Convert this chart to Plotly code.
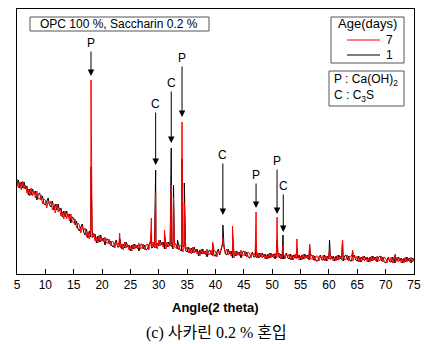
import numpy as np
import plotly.graph_objects as go

# ---------------- data ----------------
# background grid: 5..75 deg, step 0.25 (4 values per degree)
angle_grid = np.arange(5, 75.001, 0.25)

bg_7d = [
    95, 86, 92, 84,  93, 85, 89, 81,  85, 78, 86, 78,  83, 76, 83, 75,  75, 79, 70, 75,   # 5-9
    74, 66, 73, 69,  73, 64, 69, 61,  70, 62, 66, 58,  62, 55, 63, 55,  60, 53, 60, 52,   # 10-14
    51, 55, 46, 51,  49, 41, 48, 43,  46, 37, 42, 35,  44, 36, 41, 33,  37, 31, 39, 32,   # 15-19
    36, 32, 37, 31,  31, 35, 28, 33,  32, 26, 32, 28,  32, 26, 30, 24,  32, 26, 30, 24,   # 20-24
    28, 23, 30, 25,  29, 25, 31, 25,  26, 30, 24, 29,  30, 24, 30, 27,  32, 26, 31, 25,   # 25-29
    34, 28, 32, 27,  30, 25, 32, 27,  31, 27, 33, 27,  26, 30, 24, 29,  28, 22, 27, 24,   # 30-34
    27, 21, 26, 20,  27, 21, 25, 20,  23, 18, 25, 20,  23, 19, 25, 19,  20, 24, 18, 23,   # 35-39
    23, 17, 23, 20,  27, 31, 26, 21,  25, 19, 23, 18,  21, 16, 23, 18,  22, 18, 24, 18,   # 40-44
    19, 23, 17, 22,  21, 16, 21, 18,  22, 16, 21, 16,  21, 16, 20, 15,  19, 15, 21, 16,   # 45-49
    20, 16, 21, 16,  17, 21, 15, 20,  20, 15, 20, 17,  20, 14, 19, 14,  20, 15, 19, 14,   # 50-54
    18, 14, 20, 15,  19, 15, 20, 15,  15, 19, 13, 18,  18, 13, 18, 15,  19, 13, 18, 13,   # 55-59
    19, 14, 18, 13,  17, 13, 19, 14,  18, 14, 19, 14,  15, 19, 13, 18,  18, 13, 18, 15,   # 60-64
    18, 12, 17, 12,  18, 13, 17, 12,  16, 12, 18, 13,  17, 13, 18, 13,  14, 18, 12, 17,   # 65-69
    16, 11, 16, 13,  17, 11, 16, 11,  17, 12, 16, 11,  15, 11, 17, 12,  16, 12, 17, 12,   # 70-74
    14,                                                                                   # 75
]

bg_1d = [
    88, 94, 86, 92,  86, 92, 85, 88,  79, 85, 79, 85,  80, 83, 74, 80,  81, 74, 78, 70,   # 5-9
    69, 73, 76, 69,  67, 73, 64, 70,  64, 70, 63, 66,  57, 63, 57, 63,  57, 60, 51, 57,   # 10-14
    56, 49, 53, 45,  43, 47, 50, 42,  39, 45, 36, 43,  37, 43, 37, 40,  31, 38, 32, 39,   # 15-19
    33, 36, 29, 35,  35, 30, 33, 28,  27, 31, 34, 27,  27, 32, 25, 30,  26, 32, 27, 29,   # 20-24
    23, 29, 25, 30,  26, 29, 23, 29,  30, 25, 29, 24,  25, 29, 32, 26,  27, 32, 26, 31,   # 25-29
    28, 34, 29, 32,  25, 31, 27, 32,  28, 31, 25, 31,  30, 25, 29, 24,  23, 27, 29, 23,   # 30-34
    22, 27, 21, 26,  21, 27, 22, 25,  18, 24, 20, 25,  20, 23, 17, 23,  24, 19, 23, 18,   # 35-39
    18, 22, 25, 19,  25, 30, 28, 20,  19, 25, 20, 23,  16, 22, 18, 23,  19, 22, 16, 22,   # 40-44
    23, 18, 22, 17,  16, 20, 22, 17,  17, 22, 16, 21,  17, 21, 17, 20,  15, 20, 16, 21,   # 45-49
    17, 20, 15, 20,  21, 16, 20, 15,  15, 19, 21, 16,  15, 20, 14, 19,  16, 20, 16, 19,   # 50-54
    14, 19, 15, 20,  16, 19, 14, 19,  19, 14, 18, 13,  13, 17, 19, 14,  14, 19, 13, 18,   # 55-59
    15, 19, 15, 18,  13, 18, 14, 19,  15, 18, 13, 18,  19, 14, 18, 13,  13, 17, 19, 14,   # 60-64
    13, 18, 12, 17,  14, 18, 14, 17,  12, 17, 13, 18,  14, 17, 12, 17,  18, 13, 17, 12,   # 65-69
    11, 15, 17, 12,  12, 17, 11, 16,  13, 17, 13, 16,  11, 16, 12, 17,  13, 16, 11, 16,   # 70-74
    14,                                                                                   # 75
]

# sharp diffraction peaks
peak_angles = [18.05, 23.1, 28.7, 29.45, 31.0, 32.2, 32.6, 33.3, 34.1, 34.5,
               39.5, 41.3, 43.0, 47.15, 50.85, 51.9, 54.35, 56.6, 60.1, 62.4, 64.2, 71.7]
peak_7d = [194, 41, 56, 81, 44, 89, 77, 30, 152, 71,
           32, 37, 48, 62, 57, 29, 35, 30, 24, 34, 24, 20]
peak_1d = [107, 36, 40, 104, 40, 126, 89, 34, 115, 91,
           30, 49, 40, 32, 34, 39, 25, 28, 34, 34, 22, 19]

# phase labels
label_text = ["P", "C", "C", "P", "C", "P", "P", "C"]
label_angle = [18.05, 29.45, 32.2, 34.1, 41.3, 47.15, 50.85, 51.95]
label_tip = [198, 109, 131, 157, 59, 66, 60, 42]
label_offset = [-33, -61, -60, -59, -60, -33, -53, -46]

x_ticks = list(range(5, 80, 5))


def merge(grid, bg, px, ph):
    xs = list(grid) + list(px)
    ys = list(bg) + list(ph)
    order = np.argsort(xs, kind="stable")
    return [xs[i] for i in order], [ys[i] for i in order]


x7, y7 = merge(angle_grid, bg_7d, peak_angles, peak_7d)
x1, y1 = merge(angle_grid, bg_1d, peak_angles, peak_1d)

# ---------------- figure ----------------
W, H = 435, 344
L, R, T, B = 17, 414, 9, 274
FONT = "Liberation Sans, Arial, sans-serif"


def px(xp):
    return (xp - L) / (R - L)


def py(yp):
    return (B - yp) / (B - T)


fig = go.Figure()
fig.add_trace(go.Scatter(x=x1, y=y1, mode="lines", name="1",
                         line=dict(color="#000000", width=1), showlegend=False))
fig.add_trace(go.Scatter(x=x7, y=y7, mode="lines", name="7",
                         line=dict(color="#ff0000", width=1), showlegend=False))

annotations = []
for t, a, tip, off in zip(label_text, label_angle, label_tip, label_offset):
    annotations.append(dict(x=a, y=tip, xref="x", yref="y", text=t,
                            showarrow=True, ax=0, ay=off, arrowhead=2,
                            arrowsize=1.3, arrowwidth=1, arrowcolor="#000000",
                            font=dict(family=FONT, size=12, color="#000000")))

# boxes
shapes = []
for (x0, y0, x1b, y1b) in [(30, 17, 209, 31), (331, 17, 404, 63), (329, 71, 404, 106)]:
    shapes.append(dict(type="rect", xref="paper", yref="paper",
                       x0=px(x0), x1=px(x1b), y0=py(y1b), y1=py(y0),
                       line=dict(color="#555555", width=1), fillcolor="white"))
# legend line samples
shapes.append(dict(type="line", xref="paper", yref="paper", x0=px(347), x1=px(380),
                   y0=py(40), y1=py(40), line=dict(color="#ff0000", width=1)))
shapes.append(dict(type="line", xref="paper", yref="paper", x0=px(347), x1=px(380),
                   y0=py(55), y1=py(55), line=dict(color="#000000", width=1)))


def txt(x, y, s, size=12, xanchor="center", family=FONT):
    annotations.append(dict(x=px(x), y=py(y), xref="paper", yref="paper", text=s,
                            showarrow=False, xanchor=xanchor, yanchor="middle",
                            font=dict(family=family, size=size, color="#000000")))


txt(119.5, 24, "OPC 100 %, Saccharin 0.2 %")
txt(367.5, 24, "Age(days)", size=13)
txt(384, 40, "7", xanchor="left")
txt(384, 55, "1", xanchor="left")
txt(332, 80, "P : Ca(OH)<sub>2</sub>", xanchor="left")
txt(332, 96, "C : C<sub>3</sub>S", xanchor="left")
txt(215.5, 307, "<b>Angle(2 theta)</b>", size=13)
txt(216, 333, "(c) 사카린 0.2 % 혼입", size=16,
    family="Liberation Serif, Noto Sans CJK KR, serif")

fig.update_layout(
    width=W, height=H,
    margin=dict(l=L, r=W - R, t=T, b=H - B, autoexpand=False),
    paper_bgcolor="white", plot_bgcolor="white",
    showlegend=False,
    annotations=annotations, shapes=shapes,
    xaxis=dict(range=[5, 75], tickvals=x_ticks, ticks="inside", ticklen=5,
               tickcolor="#000000", tickwidth=1, automargin=False,
               showline=True, linecolor="#000000", linewidth=1, mirror=True,
               showgrid=False, zeroline=False,
               tickfont=dict(family=FONT, size=12, color="#000000")),
    yaxis=dict(range=[0, 265], showticklabels=False, ticks="", automargin=False,
               showline=True, linecolor="#000000", linewidth=1, mirror=True,
               showgrid=False, zeroline=False),
)

fig.write_html("out.html", config={"displayModeBar": False},
               post_script="document.body.style.margin='0';document.body.style.overflow='hidden';")
